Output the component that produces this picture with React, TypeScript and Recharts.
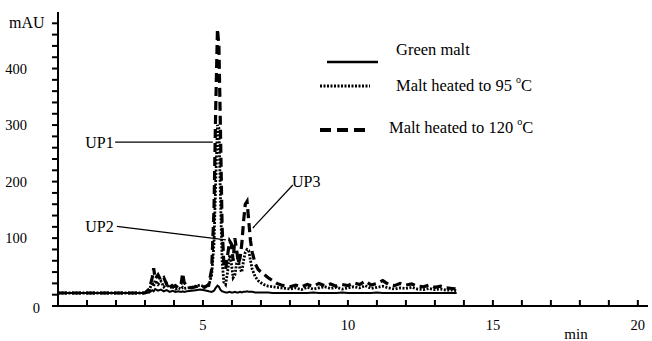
import React from 'react';
import { LineChart, Line, XAxis, YAxis, ReferenceLine, ReferenceDot } from 'recharts';

const FONT = 'Liberation Serif, DejaVu Serif, serif';

// retention time (min)
const times = [
  0, 1, 2, 3, 3.15, 3.25, 3.3, 3.35, 3.45, 3.55, 3.65, 3.75, 3.85, 3.95, 4.05, 4.15,
  4.25, 4.3, 4.35, 4.45, 4.6, 4.75, 4.9, 5.05, 5.2, 5.3, 5.38, 5.44, 5.5, 5.55, 5.6, 5.66,
  5.72, 5.78, 5.85, 5.92, 5.98, 6.04, 6.1, 6.16, 6.22, 6.28, 6.34, 6.4, 6.46, 6.52, 6.58, 6.64,
  6.7, 6.8, 6.9, 7.0, 7.1, 7.25, 7.4, 7.55, 7.7, 7.85, 8.0, 8.2, 8.4, 8.6, 8.8, 9.0,
  9.2, 9.4, 9.6, 9.8, 10.0, 10.2, 10.4, 10.6, 10.8, 11.0, 11.2, 11.4, 11.6, 11.8, 12.0, 12.2,
  12.4, 12.6, 12.8, 13.0, 13.2, 13.4, 13.6, 13.75,
];

// absorbance (mAU)
const greenMalt = [
  3, 3, 3, 3, 4, 8, 6, 10, 7, 9, 6, 8, 5, 7, 5, 6,
  5, 6, 5, 6, 7, 8, 9, 8, 6, 5, 7, 12, 16, 14, 9, 6,
  5, 4, 4, 5, 4, 4, 5, 4, 4, 5, 4, 5, 5, 6, 5, 5,
  5, 4, 4, 4, 4, 4, 3, 3, 3, 3, 3, 3, 3, 3, 4, 3,
  3, 3, 3, 4, 3, 3, 3, 3, 3, 4, 3, 3, 3, 3, 3, 3,
  3, 3, 3, 3, 3, 3, 3, 3,
];

const malt95 = [
  3, 3, 3, 3, 8, 22, 15, 25, 18, 24, 14, 20, 12, 15, 10, 12,
  10, 13, 11, 12, 13, 15, 17, 14, 16, 35, 90, 200, 300, 295, 180, 60,
  22, 18, 40, 70, 55, 30, 35, 55, 60, 45, 40, 60, 75, 80, 78, 60,
  45, 32, 25, 21, 18, 15, 14, 13, 12, 11, 10, 12, 9, 13, 10, 12,
  14, 11, 13, 10, 12, 14, 12, 16, 11, 13, 15, 12, 10, 12, 11, 13,
  10, 9, 11, 9, 10, 8, 8, 7,
];

const malt120 = [
  3, 3, 3, 3, 10, 30, 47, 28, 35, 25, 30, 18, 22, 14, 16, 12,
  20, 38, 22, 14, 12, 14, 16, 13, 18, 45, 150, 330, 470, 440, 300, 120,
  55, 45, 70, 95, 90, 60, 100, 80, 55, 65, 90, 130, 160, 165, 130, 95,
  75, 55, 45, 40, 36, 30, 25, 20, 17, 15, 14, 17, 14, 18, 15, 20,
  16, 19, 15, 18, 16, 21, 18, 24, 17, 20, 25, 18, 16, 20, 17, 19,
  15, 14, 17, 13, 15, 12, 11, 10,
];

const xTicks = Array.from({ length: 20 }, (_, i) => i + 1);
const xLabels = [5, 10, 15, 20];
const yTicks = Array.from({ length: 26 }, (_, i) => -20 + i * 20);
const yLabels = [100, 200, 300, 400];

const data = times.map((t, i) => ({
  t,
  green: greenMalt[i],
  m95: malt95[i],
  m120: malt120[i],
}));

// minute ticks point up from the axis; only every 5th is labelled
const XTick = (props: any) => {
  const { x, y, payload } = props;
  const v = payload.value;
  return (
    <g>
      <line x1={x} x2={x} y1={y - 1} y2={y - 6} stroke="#000" strokeWidth={2} />
      {xLabels.includes(v) && (
        <text x={x} y={y + 19} textAnchor="middle" dominantBaseline="central"
          style={{ fontFamily: FONT, fontSize: 14.5 }} fill="#000">{v}</text>
      )}
    </g>
  );
};

// tick lines come from the axis itself; this only places the labels
const YTick = (props: any) => {
  const { x, y, payload } = props;
  const v = payload.value;
  if (yLabels.includes(v)) {
    return (
      <text x={x - 25} y={y} textAnchor="end" dominantBaseline="central"
        style={{ fontFamily: FONT, fontSize: 14.5 }} fill="#000">{v}</text>
    );
  }
  if (v === -20) {
    return (
      <text x={x - 12} y={y + 2} textAnchor="end" dominantBaseline="central"
        style={{ fontFamily: FONT, fontSize: 14.5 }} fill="#000">0</text>
    );
  }
  return <g />;
};

const peakLabel = (text: string, anchor: 'start' | 'end') => (p: any) => (
  <text x={p.cx} y={p.cy} textAnchor={anchor} dominantBaseline="central"
    style={{ fontFamily: FONT, fontSize: 16 }} fill="#000">{text}</text>
);

const Degree = () => (
  <tspan dy={-6} style={{ fontSize: 10 }}>o</tspan>
);

const ChromLegend = () => (
  <svg width={260} height={115} style={{ position: 'absolute', left: 315, top: 35 }}>
    <g style={{ fontFamily: FONT, fontSize: 16.5 }} fill="#000">
      <line x1={12} x2={63} y1={27} y2={27} stroke="#000" strokeWidth={2.5} />
      <text x={81} y={14} dominantBaseline="central">Green malt</text>
      <line x1={5} x2={55} y1={51} y2={51} stroke="#000" strokeWidth={3} strokeDasharray="2 1.5" />
      <text x={81} y={50} dominantBaseline="central">
        Malt heated to 95 <Degree /><tspan dy={6}>C</tspan>
      </text>
      <line x1={5} x2={50} y1={95} y2={95} stroke="#000" strokeWidth={4} strokeDasharray="11 6" />
      <text x={74} y={92} dominantBaseline="central">
        Malt heated to 120 <Degree /><tspan dy={6}>C</tspan>
      </text>
    </g>
  </svg>
);

export default function App() {
  return (
    <div style={{ position: 'absolute', left: 0, top: 0, width: 652, height: 341, background: '#fff', fontFamily: FONT }}>
      <LineChart width={652} height={341} data={data} margin={{ top: 12, right: 4, bottom: 0, left: 0 }}>
        <XAxis
          dataKey="t"
          type="number"
          domain={[0, 20.35]}
          ticks={xTicks}
          interval={0}
          height={35}
          tickSize={0}
          tickMargin={0}
          tickLine={false}
          tick={XTick}
          axisLine={{ stroke: '#000', strokeWidth: 2 }}
          label={{
            content: ({ viewBox }: any) => (
              <text x={viewBox.x + viewBox.width - 72} y={viewBox.y + 28} textAnchor="middle"
                dominantBaseline="central" style={{ fontFamily: FONT, fontSize: 15 }} fill="#000">min</text>
            ),
          }}
        />
        <YAxis
          type="number"
          domain={[-20, 500]}
          ticks={yTicks}
          interval={0}
          width={58}
          tickSize={6}
          tickMargin={0}
          tickLine={{ stroke: '#000', strokeWidth: 2 }}
          tick={YTick}
          axisLine={{ stroke: '#000', strokeWidth: 2 }}
          label={{
            content: ({ viewBox }: any) => (
              <text x={viewBox.x + 9} y={viewBox.y + 10} dominantBaseline="central"
                style={{ fontFamily: FONT, fontSize: 16 }} fill="#000">mAU</text>
            ),
          }}
        />

        <Line dataKey="green" type="linear" stroke="#000" strokeWidth={2} dot={false} isAnimationActive={false} />
        <Line dataKey="m120" type="linear" stroke="#000" strokeWidth={3.2} strokeDasharray="9 5" dot={false} isAnimationActive={false} />
        <Line dataKey="m95" type="linear" stroke="#000" strokeWidth={2.8} strokeDasharray="2 1.5" dot={false} isAnimationActive={false} />

        {/* leader lines for labelled peaks */}
        <ReferenceLine segment={[{ x: 1.97, y: 270 }, { x: 5.34, y: 270 }]} stroke="#000" strokeWidth={1.2} />
        <ReferenceLine segment={[{ x: 2.03, y: 121 }, { x: 5.79, y: 97 }]} stroke="#000" strokeWidth={1.2} />
        <ReferenceLine segment={[{ x: 8.1, y: 194 }, { x: 6.72, y: 118 }]} stroke="#000" strokeWidth={1.2} />
        <ReferenceDot x={1.92} y={270} r={0} shape={peakLabel('UP1', 'end')} />
        <ReferenceDot x={1.92} y={120} r={0} shape={peakLabel('UP2', 'end')} />
        <ReferenceDot x={8.07} y={201} r={0} shape={peakLabel('UP3', 'start')} />
      </LineChart>
      <ChromLegend />
    </div>
  );
}
